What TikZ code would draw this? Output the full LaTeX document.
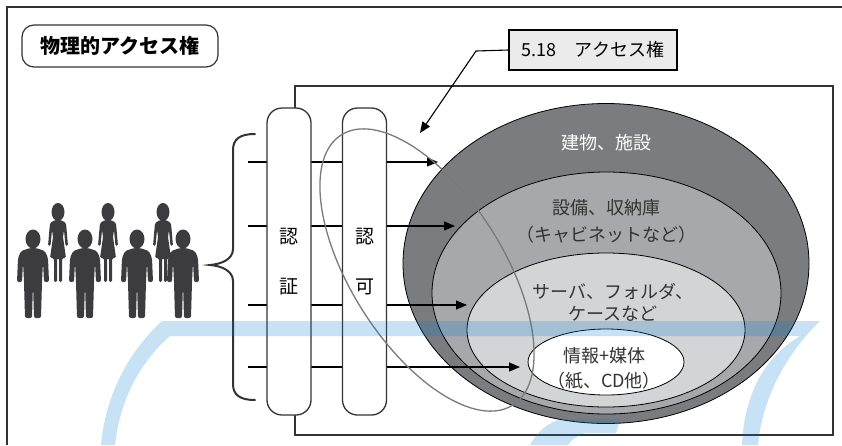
\documentclass[tikz,border=0pt]{standalone}
\usepackage{fontspec}
\setmainfont{Noto Sans CJK JP}
\usetikzlibrary{arrows.meta,positioning,calc}

\definecolor{ink}{HTML}{333333}
\definecolor{figgray}{HTML}{3C3C3E}
\definecolor{shellA}{HTML}{7B7C80}
\definecolor{shellB}{HTML}{A7A8AC}
\definecolor{shellC}{HTML}{D3D4D6}
\definecolor{loopgray}{HTML}{7A7A7A}
\definecolor{boxgray}{HTML}{EBEBEB}
\definecolor{wmblue}{RGB}{0,125,205}

\begin{document}
\begin{tikzpicture}[x=1pt, y=-1pt,
  gate/.style={draw=ink, line width=1.3pt, fill=white, rounded corners=15pt,
    minimum width=44pt, minimum height=307pt, inner sep=0pt, align=center,
    font=\fontsize{19}{50}\selectfont},
  flow/.style={-{Triangle[length=11pt,width=9pt]}, line width=1.1pt, black},
  zone/.style={align=center, text=ink, font=\fontsize{18}{27}\selectfont},
  man/.pic={
    \fill[figgray, rounded corners=2pt] (-3,-70) -- (-12,-67) -- (-15,-60) -- (-16,-36)
      -- (-11,-36) -- (-10,-56) -- (-9,-36) -- (-8,0) -- (-1,0) -- (0,-34) -- (1,0)
      -- (8,0) -- (9,-36) -- (10,-56) -- (11,-36) -- (16,-36) -- (15,-60) -- (12,-67)
      -- (3,-70) -- cycle;
    \fill[figgray] (0,-79) ellipse [x radius=7.5, y radius=9.5];
  },
  woman/.pic={
    \fill[figgray, rounded corners=1.5pt] (-3,-62) -- (-8,-59) -- (-10,-36) -- (-7.5,-36)
      -- (-6,-52) -- (-5,-45) -- (-8,-24) -- (-4,-24) -- (-4,0) -- (-1,0) -- (-1,-24)
      -- (1,-24) -- (1,0) -- (4,0) -- (4,-24) -- (8,-24) -- (5,-45) -- (6,-52)
      -- (7.5,-36) -- (10,-36) -- (8,-59) -- (3,-62) -- cycle;
    \fill[figgray] (0,-70) ellipse [x radius=6.5, y radius=9];
  }]
\useasboundingbox (0,0) rectangle (842,445);

% page frame and title tab
\draw[ink, line width=1.3pt] (7,445) -- (7,7) -- (842,7);
\node[draw=ink, line width=1.2pt, rounded corners=12pt, minimum width=196pt,
  minimum height=42pt, font=\fontsize{20}{20}\selectfont\bfseries] (title) at (120,46) {物理的アクセス権};

% inner frame
\draw[ink, line width=1.2pt] (295,86) rectangle (833,435);

% nested protection zones
\draw[line width=0.8pt, fill=shellA] (606,263.5) ellipse [x radius=203, y radius=160];
\draw[line width=0.8pt, fill=shellB] (606.5,293) ellipse [x radius=174.5, y radius=121];
\draw[line width=0.8pt, fill=shellC] (606,330) ellipse [x radius=139, y radius=77];
\draw[line width=0.8pt, fill=white] (606,362) ellipse [x radius=78, y radius=33];

\node[zone, text=white] (bldg) at (606,143) {建物、施設};
\node[zone] (equip) at (606,221.5) {設備、収納庫\\（キャビネットなど）};
\node[zone, font=\fontsize{18}{22}\selectfont] (server) at (613,302) {サーバ、フォルダ、\\ケースなど};
\node[zone, font=\fontsize{18}{25}\selectfont] (info) at (604,368) {情報+媒体\\（紙、CD他）};

% access paths
\foreach \y/\tip [count=\i] in {162/438, 226/455, 305/467, 367/520} {
  \coordinate (in\i) at (248,\y);
  \coordinate (to\i) at (\tip,\y);
  \draw[flow] (in\i) -- (to\i);
}

% authentication / authorisation gates
\node[gate] (authn) at (289,261.5) {認\\証};
\node[gate] (authz) at (364.5,261.5) {認\\可};

% scope of access rights
\draw[loopgray, line width=1.3pt, rotate around={-57.6:(427,270)}]
  (427,270) ellipse [x radius=160, y radius=76];

% clause reference
\node[draw=black, line width=1.2pt, fill=boxgray, minimum width=168pt, minimum height=40pt,
  font=\fontsize{18}{18}\selectfont] (ref) at (593,50) {5.18　アクセス権};
\coordinate (bend) at (476,51);
\coordinate (aim) at (420,133);
\draw[flow] (ref.west) -- (bend) -- (aim);

% people and brace
\draw[ink, line width=2pt, line cap=round]
  (255,134) .. controls (240,134) and (233,139) .. (233,150) -- (233,249)
  .. controls (233,259) and (222,264) .. (210,265)
  .. controls (222,266) and (233,271) .. (233,281) -- (233,384)
  .. controls (233,395) and (240,400) .. (255,400);
\foreach \px in {58,108,163} \pic at (\px,282) {woman};
\foreach \px in {33,85,137,183} \pic at (\px,318) {man};

% blue strokes on top
\fill[wmblue, opacity=0.22] (101,445) .. controls (105,400) and (125,355) .. (162,321)
  -- (820,321) .. controls (785,355) and (762,400) .. (758,445) -- (742,445)
  .. controls (744,400) and (760,360) .. (800,336) -- (170,336)
  .. controls (140,362) and (120,400) .. (115,445) -- cycle;
\fill[wmblue, opacity=0.22] (530,445) .. controls (537,432) and (548,422) .. (562,419)
  -- (620,419) -- (616,433) -- (585,433) .. controls (577,436) and (571,440) .. (568,445) -- cycle;
\end{tikzpicture}
\end{document}
